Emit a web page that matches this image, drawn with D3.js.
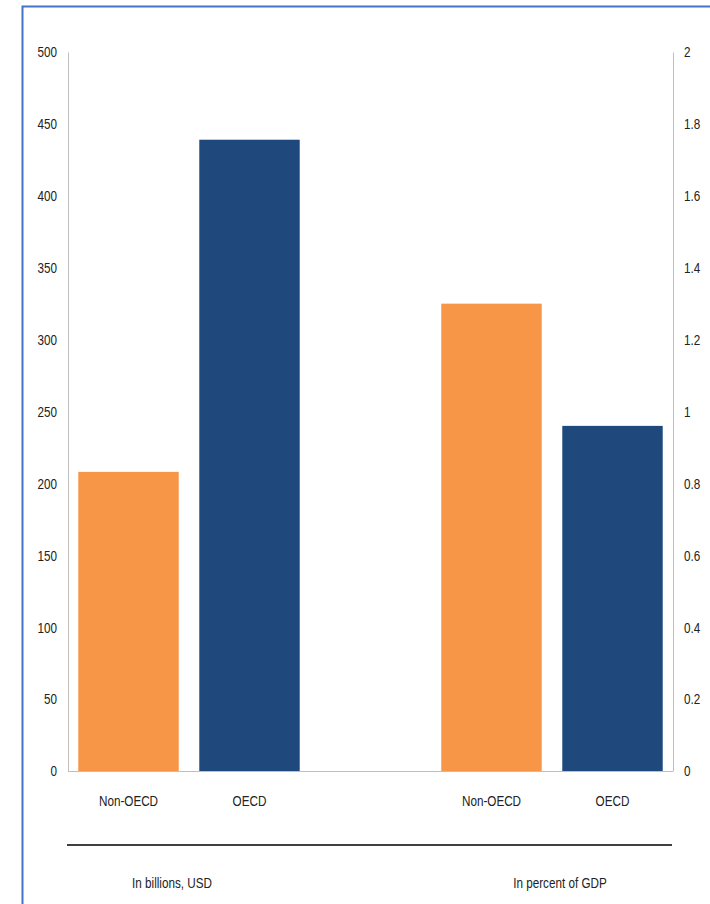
<!DOCTYPE html>
<html><head><meta charset="utf-8">
<script src="https://cdn.jsdelivr.net/npm/d3@7"></script>
<style>body{margin:0;background:#fff}text{font-family:"Liberation Sans",sans-serif;fill:#222}</style>
</head><body><div id="chart"></div>
<script>
// data
const categories = ["Non-OECD", "OECD"];
const billionsUSD = [208, 439];
const percentGDP = [1.3, 0.96];
const leftTicks = [0, 50, 100, 150, 200, 250, 300, 350, 400, 450, 500];
const rightTicks = [0, 0.2, 0.4, 0.6, 0.8, 1, 1.2, 1.4, 1.6, 1.8, 2];
const groupLabels = ["In billions, USD", "In percent of GDP"];
const colors = ["#f79646", "#1f497d"];

const width = 710, height = 904;
const sx = 0.78; // narrow the text horizontally
const svg = d3.select("#chart").append("svg").attr("width", width).attr("height", height);

// frame
svg.append("path").attr("d", "M22.5,904 V6.5 H710").attr("fill", "none").attr("stroke", "#4472c4").attr("stroke-width", 2);

const x0 = 68, x1 = 673, yTop = 52, yBot = 771;
const slots = ["L0", "L1", "gap", "R0", "R1"];
const x = d3.scaleBand().domain(slots).range([x0, x1]).paddingInner(0.17).paddingOuter(0.085);
const yL = d3.scaleLinear().domain([0, 500]).range([yBot, yTop]);
const yR = d3.scaleLinear().domain([0, 2]).range([yBot, yTop]);

const bars = [];
categories.forEach((c, i) => bars.push({slot: "L" + i, v: billionsUSD[i], y: yL, c: colors[i], name: c}));
categories.forEach((c, i) => bars.push({slot: "R" + i, v: percentGDP[i], y: yR, c: colors[i], name: c}));

svg.selectAll("rect.bar").data(bars).enter().append("rect")
  .attr("x", d => x(d.slot)).attr("width", x.bandwidth())
  .attr("y", d => d.y(d.v)).attr("height", d => yBot - d.y(d.v))
  .attr("fill", d => d.c);

// axes
const la = svg.append("g").attr("transform", `translate(${x0},0)`)
  .call(d3.axisLeft(yL).tickValues(leftTicks).tickSize(0).tickPadding(11));
const ra = svg.append("g").attr("transform", `translate(${x1},0)`)
  .call(d3.axisRight(yR).tickValues(rightTicks).tickSize(0).tickPadding(11).tickFormat(d3.format("")));
[la, ra].forEach(g => {
  g.select(".domain").attr("stroke", "#bfbfbf");
  g.selectAll("text").attr("font-size", 15).style("font-family", '"Liberation Sans",sans-serif').attr("fill", "#222")
    .each(function () {
      const t = d3.select(this), tx = +t.attr("x");
      t.attr("x", 0).attr("transform", `translate(${tx},0) scale(${sx},1)`);
    });
});
svg.append("line").attr("x1", x0).attr("x2", x1).attr("y1", yBot + 0.5).attr("y2", yBot + 0.5).attr("stroke", "#bfbfbf");

// category labels
svg.selectAll("text.cat").data(bars).enter().append("text")
  .attr("transform", d => `translate(${x(d.slot) + x.bandwidth() / 2},806) scale(${sx},1)`)
  .attr("text-anchor", "middle").attr("font-size", 15).text(d => d.name);

svg.append("line").attr("x1", 67).attr("x2", 672).attr("y1", 845).attr("y2", 845).attr("stroke", "#000").attr("stroke-width", 1.5);

svg.selectAll("text.grp").data(groupLabels).enter().append("text")
  .attr("transform", (d, i) => `translate(${[172, 560][i]},888) scale(${sx},1)`)
  .attr("text-anchor", "middle").attr("font-size", 15).text(d => d);
</script></body></html>
